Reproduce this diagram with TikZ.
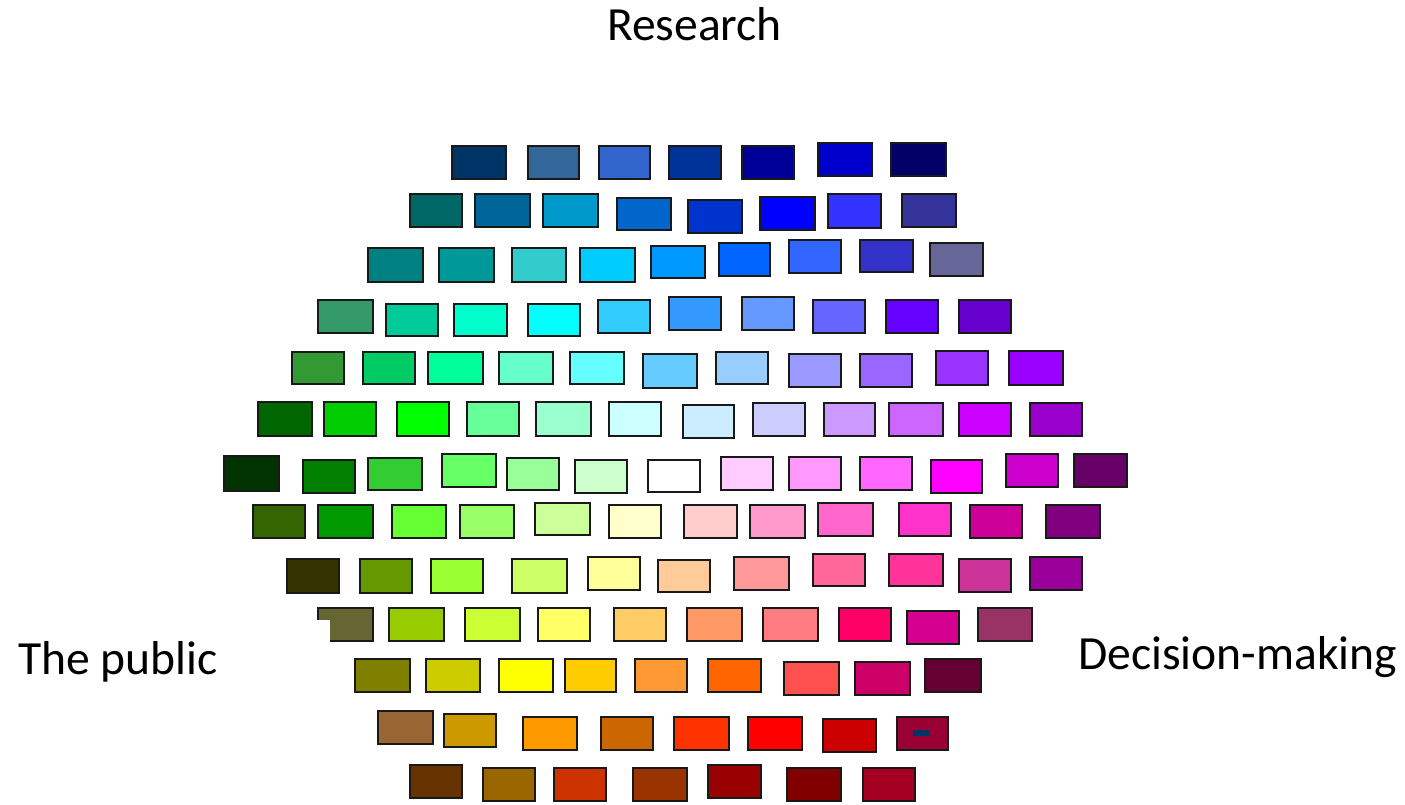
\documentclass[tikz,border=0pt]{standalone}
\usepackage{fontspec}
\setmainfont{Carlito}
\tikzset{
  cell/.style={draw=black!90, line width=2.2pt, inner sep=0pt, outer sep=0pt},
  lbl/.style={inner sep=0pt, font=\fontsize{47.6}{52}\selectfont, text=black}
}
\newcommand\cb[6]{\definecolor{cbfill}{HTML}{#6}%
  \node[cell,fill=cbfill,minimum width={#4-#2-2.2},minimum height={#5-#3-2.2}] (#1) at ({(#2+#4)/2},{(#3+#5)/2}) {};}
\begin{document}
\begin{tikzpicture}[x=1pt,y=-1pt]
\useasboundingbox (0,0) rectangle (1405,804);
% row 1
\cb{a1}{451}{145}{507}{180}{003366}
\cb{a2}{527}{145}{580}{180}{336699}
\cb{a3}{598}{145}{651}{180}{3366CC}
\cb{a4}{668}{145}{722}{180}{003399}
\cb{a5}{741}{145}{795}{180}{000099}
\cb{a6}{817}{142}{873}{177}{0000CC}
\cb{a7}{890}{142}{947}{177}{000066}
% row 2
\cb{b1}{409}{193}{463}{228}{006666}
\cb{b2}{474}{193}{531}{228}{006699}
\cb{b3}{542}{193}{599}{228}{0099CC}
\cb{b4}{616}{197}{672}{231}{0066CC}
\cb{b5}{687}{199}{743}{234}{0033CC}
\cb{b6}{759}{196}{816}{231}{0000FF}
\cb{b7}{827}{193}{882}{229}{3333FF}
\cb{b8}{901}{193}{957}{228}{333399}
% row 3
\cb{c1}{367}{247}{424}{283}{008080}
\cb{c2}{438}{247}{495}{283}{009999}
\cb{c3}{511}{247}{567}{283}{33CCCC}
\cb{c4}{579}{247}{636}{283}{00CCFF}
\cb{c5}{650}{245}{706}{279}{0099FF}
\cb{c6}{718}{242}{771}{277}{0066FF}
\cb{c7}{788}{239}{842}{274}{3366FF}
\cb{c8}{859}{239}{914}{273}{3333CC}
\cb{c9}{929}{242}{984}{277}{666699}
% row 4
\cb{d1}{317}{299}{374}{334}{339966}
\cb{d2}{385}{303}{439}{337}{00CC99}
\cb{d3}{453}{303}{508}{337}{00FFCC}
\cb{d4}{527}{303}{581}{337}{00FFFF}
\cb{d5}{597}{299}{651}{334}{33CCFF}
\cb{d6}{668}{296}{722}{331}{3399FF}
\cb{d7}{741}{296}{795}{331}{6699FF}
\cb{d8}{812}{299}{866}{334}{6666FF}
\cb{d9}{885}{299}{939}{334}{6600FF}
\cb{d10}{958}{299}{1012}{334}{6600CC}
% row 5
\cb{e1}{291}{351}{345}{385}{339933}
\cb{e2}{362}{351}{416}{385}{00CC66}
\cb{e3}{427}{351}{484}{385}{00FF99}
\cb{e4}{498}{351}{554}{385}{66FFCC}
\cb{e5}{569}{351}{625}{385}{66FFFF}
\cb{e6}{642}{353}{698}{389}{66CCFF}
\cb{e7}{715}{351}{769}{385}{99CCFF}
\cb{e8}{788}{353}{842}{388}{9999FF}
\cb{e9}{859}{353}{913}{388}{9966FF}
\cb{e10}{935}{350}{989}{386}{9933FF}
\cb{e11}{1008}{350}{1064}{386}{9900FF}
% row 6
\cb{f1}{257}{401}{313}{437}{006600}
\cb{f2}{323}{401}{377}{437}{00CC00}
\cb{f3}{396}{401}{450}{437}{00FF00}
\cb{f4}{466}{401}{520}{437}{66FF99}
\cb{f5}{535}{401}{592}{437}{99FFCC}
\cb{f6}{608}{401}{662}{437}{CCFFFF}
\cb{f7}{682}{404}{735}{439}{CCECFF}
\cb{f8}{752}{402}{806}{437}{CCCCFF}
\cb{f9}{823}{402}{876}{437}{CC99FF}
\cb{f10}{888}{402}{944}{437}{CC66FF}
\cb{f11}{958}{402}{1012}{437}{CC00FF}
\cb{f12}{1029}{402}{1083}{437}{9900CC}
% row 7
\cb{g1}{223}{455}{280}{492}{003300}
\cb{g2}{302}{459}{356}{494}{007F00}
\cb{g3}{367}{457}{423}{491}{33CC33}
\cb{g4}{441}{453}{497}{488}{66FF66}
\cb{g5}{506}{457}{560}{491}{99FF99}
\cb{g6}{574}{459}{628}{494}{CCFFCC}
\cb{g7}{647}{459}{701}{493}{FFFFFF}
\cb{g8}{720}{456}{774}{491}{FFCCFF}
\cb{g9}{788}{456}{842}{491}{FF99FF}
\cb{g10}{859}{456}{913}{491}{FF66FF}
\cb{g11}{930}{459}{983}{494}{FF00FF}
\cb{g12}{1005}{453}{1059}{488}{CC00CC}
\cb{g13}{1073}{453}{1128}{488}{660066}
% row 8
\cb{h1}{252}{504}{306}{539}{336600}
\cb{h2}{317}{504}{374}{539}{009900}
\cb{h3}{391}{504}{447}{539}{66FF33}
\cb{h4}{459}{504}{515}{539}{99FF66}
\cb{h5}{534}{502}{591}{536}{CCFF99}
\cb{h6}{608}{504}{662}{539}{FFFFCC}
\cb{h7}{683}{504}{738}{539}{FFCCCC}
\cb{h8}{749}{504}{806}{539}{FF99CC}
\cb{h9}{817}{502}{874}{537}{FF66CC}
\cb{h10}{898}{502}{952}{537}{FF33CC}
\cb{h11}{969}{504}{1023}{539}{CC0099}
\cb{h12}{1045}{504}{1101}{539}{800080}
% row 9
\cb{i1}{286}{558}{340}{594}{333300}
\cb{i2}{359}{558}{413}{594}{669900}
\cb{i3}{430}{558}{484}{594}{99FF33}
\cb{i4}{511}{558}{568}{594}{CCFF66}
\cb{i5}{587}{556}{641}{591}{FFFF99}
\cb{i6}{657}{559}{711}{593}{FFCC99}
\cb{i7}{733}{556}{790}{591}{FF9999}
\cb{i8}{812}{553}{866}{587}{FF6699}
\cb{i9}{888}{553}{944}{587}{FF3399}
\cb{i10}{958}{558}{1012}{593}{CC3399}
\cb{i11}{1029}{556}{1083}{591}{990099}
% row 10
\cb{j1}{317}{607}{374}{642}{666633}
\cb{j2}{388}{607}{445}{642}{99CC00}
\cb{j3}{464}{607}{521}{642}{CCFF33}
\cb{j4}{537}{607}{591}{642}{FFFF66}
\cb{j5}{613}{607}{667}{642}{FFCC66}
\cb{j6}{686}{607}{743}{642}{FF9966}
\cb{j7}{762}{607}{819}{642}{FF7C80}
\cb{j8}{838}{607}{892}{642}{FF0066}
\cb{j9}{906}{610}{960}{645}{D4008F}
\cb{j10}{977}{607}{1033}{642}{993366}
\fill[white] (315,619.5) rectangle (330,644);
% row 11
\cb{k1}{354}{658}{411}{693}{808000}
\cb{k2}{425}{658}{481}{693}{CCCC00}
\cb{k3}{498}{658}{554}{693}{FFFF00}
\cb{k4}{564}{658}{617}{693}{FFCC00}
\cb{k5}{634}{658}{688}{693}{FF9933}
\cb{k6}{707}{658}{762}{693}{FF6600}
\cb{k7}{783}{661}{840}{696}{FF5050}
\cb{k8}{854}{661}{911}{696}{CC0066}
\cb{k9}{924}{658}{982}{693}{660033}
% row 12
\cb{l1}{377}{710}{434}{745}{996633}
\cb{l2}{443}{713}{497}{748}{CC9900}
\cb{l3}{522}{716}{578}{751}{FF9900}
\cb{l4}{600}{716}{654}{751}{CC6600}
\cb{l5}{673}{716}{730}{751}{FF3300}
\cb{l6}{747}{716}{803}{751}{FF0000}
\cb{l7}{822}{718}{877}{753}{CC0000}
\cb{l8}{896}{716}{949}{751}{990033}
\fill[fill={rgb,255:red,0;green,51;blue,102}] (913,730) rectangle (929,736);
% row 13
\cb{m1}{409}{764}{463}{799}{663300}
\cb{m2}{482}{767}{536}{802}{996600}
\cb{m3}{553}{767}{607}{802}{CC3300}
\cb{m4}{632}{767}{688}{802}{993300}
\cb{m5}{707}{764}{762}{799}{990000}
\cb{m6}{786}{767}{842}{802}{800000}
\cb{m7}{862}{767}{916}{802}{A50021}
% labels
\node[lbl, anchor=base] (research) at (694.5,40) {Research};
\node[lbl, anchor=base west] (public) at (18,674) {The public};
\node[lbl, anchor=base west] (decision) at (1078,669) {Decision-making};
\end{tikzpicture}
\end{document}
